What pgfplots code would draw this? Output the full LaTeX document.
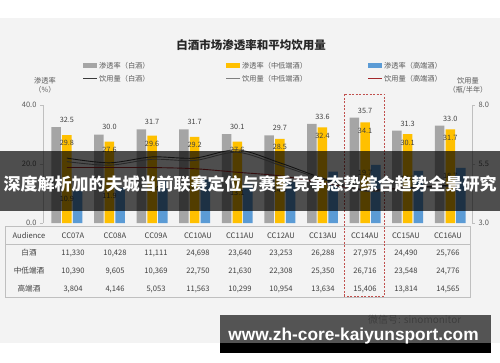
\documentclass[border=0pt]{standalone}
\usepackage{pgfplots}
\pgfplotsset{compat=1.18}
\usepackage{fontspec}
\setmainfont{Noto Sans CJK SC}
\newfontfamily\latinbold{Liberation Sans}
\definecolor{panel}{HTML}{F3F3F3}
\definecolor{cgray}{HTML}{A5A5A5}
\definecolor{cyellow}{HTML}{FFC000}
\definecolor{cblue}{HTML}{5B9BD5}
\definecolor{labc}{HTML}{595959}
\definecolor{valc}{HTML}{404040}
\definecolor{lwhite}{HTML}{3A3A3A}
\definecolor{lmid}{HTML}{7F7F7F}
\definecolor{lhigh}{HTML}{A3282B}
\definecolor{boxred}{HTML}{C0504D}
\definecolor{gridc}{HTML}{BFBFBF}
\begin{document}
\begin{tikzpicture}[x=1pt,y=1pt]
\fill[white] (0,0) rectangle (500,362);
\fill[panel] (0,19) rectangle (500,344);
% title
\node[font=\fontsize{11.5}{13}\selectfont\bfseries, text=black!85] at (251,317) {白酒市场渗透率和平均饮用量};
% legend
\begin{scope}[font=\fontsize{7.2}{8}\selectfont, text=labc]
\fill[cgray] (83,293.5) rectangle (97,298.5);
\node[anchor=west, inner sep=0pt] at (99,296) {渗透率（白酒）};
\fill[cyellow] (226,293.5) rectangle (240,298.5);
\node[anchor=west, inner sep=0pt] at (242,296) {渗透率（中低端酒）};
\fill[cblue] (368,293.5) rectangle (382,298.5);
\node[anchor=west, inner sep=0pt] at (384,296) {渗透率（高端酒）};
\draw[lwhite, line width=1pt] (83,283) -- (97,283);
\node[anchor=west, inner sep=0pt] at (99,283) {饮用量（白酒）};
\draw[lmid, line width=1pt] (226,283) -- (240,283);
\node[anchor=west, inner sep=0pt] at (242,283) {饮用量（中低端酒）};
\draw[lhigh, line width=1pt] (368,283) -- (382,283);
\node[anchor=west, inner sep=0pt] at (384,283) {饮用量（高端酒）};
% axis titles
\node at (45,281) {渗透率};
\node at (45,272) {（\%）};
\node at (468,281) {饮用量};
\node at (468,272) {（瓶/半年）};
\end{scope}

\begin{axis}[at={(43pt,139pt)}, anchor=south west, scale only axis,
  width=429pt, height=118pt, xmin=-0.56, xmax=9.51, ymin=0, ymax=40,
  axis x line=none, axis y line*=left, ytick={0,20,40},
  yticklabels={0.0,20.0,40.0},
  y axis line style={draw=gridc}, ytick style={draw=gridc},
  major tick length=3pt, tick align=outside,
  tick label style={font=\fontsize{7.5}{9}\selectfont, text=labc},
  /pgf/number format/.cd, fixed, fixed zerofill, precision=1, assume math mode=true,
  /pgfplots/.cd, clip=false,
  nodes near coords style={font=\fontsize{7.3}{9}\selectfont, text=valc}]
\addplot[ybar, bar width=9.5pt, bar shift=-10.7pt, fill=cgray, draw=none,
  nodes near coords, every node near coord/.append style={anchor=south, yshift=1pt}]
  coordinates {(0,32.5)(1,30.0)(2,31.7)(3,31.7)(4,30.1)(5,29.7)(6,33.6)(7,35.7)(8,31.3)(9,33.0)};
\addplot[ybar, bar width=9.5pt, bar shift=0pt, fill=cyellow, draw=none,
  nodes near coords, every node near coord/.append style={anchor=north, yshift=-2pt}]
  coordinates {(0,29.8)(1,27.6)(2,29.6)(3,29.2)(4,27.6)(5,28.5)(6,32.4)(7,34.1)(8,30.1)(9,31.7)};
\addplot[ybar, bar width=9.5pt, bar shift=10.7pt, fill=cblue, draw=none,
  nodes near coords, every node near coord/.append style={anchor=north, yshift=-2pt}]
  coordinates {(0,10.9)(1,11.9)(2,14.4)(3,14.8)(4,13.1)(5,14.0)(6,17.4)(7,19.7)(8,17.7)(9,18.7)};
\end{axis}

\begin{axis}[at={(43pt,139pt)}, anchor=south west, scale only axis,
  width=429pt, height=118pt, xmin=-0.56, xmax=9.51, ymin=3, ymax=8,
  axis x line=none, axis y line*=right, ytick={3,5.5,8},
  yticklabels={3.0,5.5,8.0},
  y axis line style={draw=gridc}, ytick style={draw=gridc},
  major tick length=3pt, tick align=outside,
  tick label style={font=\fontsize{7.5}{9}\selectfont, text=labc},
  /pgf/number format/assume math mode=true]
\addplot[smooth, line width=0.9pt, color=lhigh] coordinates {(0,5.35)(1,5.35)(2,5.35)(3,5.3)(4,5.15)(5,5.0)(6,4.7)(7,4.4)(8,4.5)(9,4.6)};
\addplot[smooth, line width=0.9pt, color=lmid] coordinates {(0,5.6)(1,5.45)(2,5.7)(3,5.65)(4,6.0)(5,5.45)(6,4.85)(7,4.35)(8,4.45)(9,4.55)};
\addplot[smooth, line width=0.9pt, color=lwhite] coordinates {(0,5.75)(1,5.55)(2,5.8)(3,5.75)(4,6.1)(5,5.55)(6,4.9)(7,4.4)(8,4.5)(9,4.6)};
\end{axis}

% table
\draw[gridc, line width=0.6pt] (5,65) rectangle (470,136);
\draw[gridc, line width=0.6pt] (5,118) -- (470,118);
\begin{scope}[font=\fontsize{7.6}{9}\selectfont, text=valc, every node/.style={anchor=base, inner sep=0pt}]
\node at (29,123.3) {Audience};
\node at (29,106.3) {白酒};
\node at (29,88.3) {中低端酒};
\node at (29,70.3) {高端酒};
\foreach \x/\h/\a/\b/\c in {73/CC07A/{11,330}/{10,390}/{3,804}, 115/CC08A/{10,428}/{9,605}/{4,146}, 156/CC09A/{11,111}/{10,369}/{5,053}, 198/CC10AU/{24,698}/{22,750}/{11,563}, 240/CC11AU/{23,640}/{21,630}/{10,299}, 281/CC12AU/{23,253}/{22,308}/{10,954}, 323/CC13AU/{26,288}/{25,350}/{13,634}, 365/CC14AU/{27,975}/{26,716}/{15,406}, 406/CC15AU/{24,490}/{23,548}/{13,814}, 448/CC16AU/{25,766}/{24,776}/{14,565}}{
  \node at (\x,123.3) {\h};
  \node at (\x,106.3) {\a};
  \node at (\x,88.3) {\b};
  \node at (\x,70.3) {\c};
}
\end{scope}
% highlight box
\draw[boxred, line width=0.8pt, dash pattern=on 2pt off 1.5pt] (344,66) rectangle (384,268);
% overlay banner
\fill[black, opacity=0.68] (0,151) rectangle (500,211);
\node[font=\fontsize{17}{19}\selectfont\bfseries, text=white, inner sep=0pt] at (250,178) {深度解析加的夫城当前联赛定位与赛季竞争态势综合趋势全景研究};
% bottom watermark banner
\node[font=\fontsize{10}{12}\selectfont, text=gray!60, anchor=west, inner sep=0pt] at (368,42) {微信号: sinomonitor};
\fill[black, opacity=0.65] (220,19) rectangle (491,47);
\fill[black] (220,9) rectangle (491,19);
\node[font=\latinbold\fontsize{17.3}{19}\selectfont\bfseries, text=white, anchor=base, inner sep=0pt] at (353.5,22) {www.zh-core-kaiyunsport.com};
\pgfresetboundingbox
\path[use as bounding box] (0,0) rectangle (500,362);
\end{tikzpicture}
\end{document}
